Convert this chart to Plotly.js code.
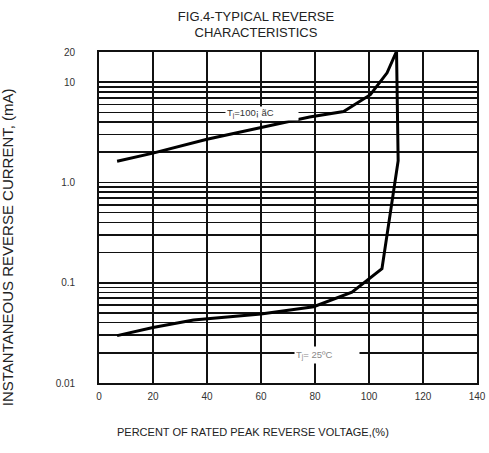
<!DOCTYPE html>
<html>
<head>
<meta charset="utf-8">
<script src="https://cdn.plot.ly/plotly-3.0.1.min.js"></script>
<style>html,body{margin:0;padding:0;background:#fff;}#chart{width:489px;height:453px;}</style>
</head>
<body>
<div id="chart"></div>
<script>
// ---- data ----
const xTicks = [0, 20, 40, 60, 80, 100, 120, 140];
const xTickText = ['0', '20', '40', '60', '80', '100', '120', '140'];
const yDecades = [0.01, 0.1, 1, 10];
const yLabelVals = [0.01, 0.1, 1, 10, 20];
const yLabelText = ['0.01', '0.1', '1.0', '10', '20'];

// Tj = 25 C curve (percent of rated voltage, mA)
const v25 = [6.7, 20, 35, 60, 79.5, 93.7, 104.8, 108.5, 109.8, 110.8, 110.2];
const i25 = [0.0297, 0.0357, 0.0424, 0.0487, 0.0576, 0.0806, 0.138, 0.68, 1.08, 1.65, 20];
// Tj = 100 C curve
const v100 = [6.7, 20, 40, 60, 78, 90.6, 100.5, 106.7, 110.1];
const i100 = [1.63, 1.96, 2.7, 3.55, 4.5, 5.1, 7.5, 12.4, 20];

const label100 = 'T<sub>j</sub>=100¡ ãC';
const label25 = 'T<sub>j</sub>= 25ºC';

// ---- build log grid tick values ----
const yTickVals = [];
const yTickText = [];
yDecades.forEach(d => {
  for (let m = 1; m <= 9; m++) {
    const v = +(d * m).toPrecision(3);
    yTickVals.push(v);
    const idx = yLabelVals.indexOf(v);
    yTickText.push(idx >= 0 ? yLabelText[idx] : '');
  }
});
yTickVals.push(20);
yTickText.push('20');

const lineStyle = {color: '#000', width: 3};
const traces = [
  {x: v25, y: i25, type: 'scatter', mode: 'lines', line: lineStyle, hoverinfo: 'skip', showlegend: false},
  {x: v100, y: i100, type: 'scatter', mode: 'lines', line: lineStyle, hoverinfo: 'skip', showlegend: false}
];

const font = 'Liberation Sans, Arial, sans-serif';
const layout = {
  width: 489, height: 453,
  margin: {l: 99, r: 12, t: 52, b: 70},
  paper_bgcolor: '#fff', plot_bgcolor: '#fff',
  font: {family: font, color: '#222'},
  title: {
    text: 'FIG.4-TYPICAL REVERSE<br>CHARACTERISTICS',
    font: {family: font, size: 13, color: '#222'},
    x: 0.5235, xref: 'container', xanchor: 'center',
    y: 0.9547, yref: 'container', yanchor: 'middle'
  },
  xaxis: {
    range: [0, 140], tickvals: xTicks, ticktext: xTickText,
    showgrid: true, gridcolor: '#111', gridwidth: 1.8,
    zeroline: false, showline: true, linecolor: '#111', linewidth: 1.8, mirror: true,
    ticks: '', ticklabelstandoff: 3,
    tickfont: {family: font, size: 10, color: '#333'}
  },
  yaxis: {
    type: 'log', range: [-2, Math.log10(20)],
    tickvals: yTickVals, ticktext: yTickText,
    showgrid: true, gridcolor: '#111', gridwidth: 1.6,
    zeroline: false, showline: true, linecolor: '#111', linewidth: 1.8, mirror: true,
    ticks: '', ticklabelstandoff: 20,
    tickfont: {family: font, size: 10, color: '#333'}
  },
  annotations: [
    {x: 46.7, y: Math.log10(4.88), xref: 'x', yref: 'y', text: label100, showarrow: false,
     xanchor: 'left', yanchor: 'middle', align: 'left', width: 70, height: 11,
     bgcolor: '#fff', borderpad: 1, font: {family: font, size: 9.5, color: '#333'}},
    {x: 72.2, y: Math.log10(0.0192), xref: 'x', yref: 'y', text: label25, showarrow: false,
     xanchor: 'left', yanchor: 'middle', align: 'left', width: 62, height: 14,
     bgcolor: '#fff', borderpad: 1, font: {family: font, size: 9.5, color: '#888'}},
    {x: -0.240, y: 0.411, xref: 'paper', yref: 'paper', text: 'INSTANTANEOUS REVERSE CURRENT, (mA)',
     textangle: -90, showarrow: false, xanchor: 'center', yanchor: 'middle',
     font: {family: font, size: 15, color: '#222'}},
    {x: 0.407, y: -0.148, xref: 'paper', yref: 'paper', text: 'PERCENT OF RATED PEAK REVERSE VOLTAGE,(%)',
     showarrow: false, xanchor: 'center', yanchor: 'middle',
     font: {family: font, size: 11, color: '#222'}}
  ]
};

Plotly.newPlot('chart', traces, layout, {staticPlot: true, displayModeBar: false});
</script>
</body>
</html>
